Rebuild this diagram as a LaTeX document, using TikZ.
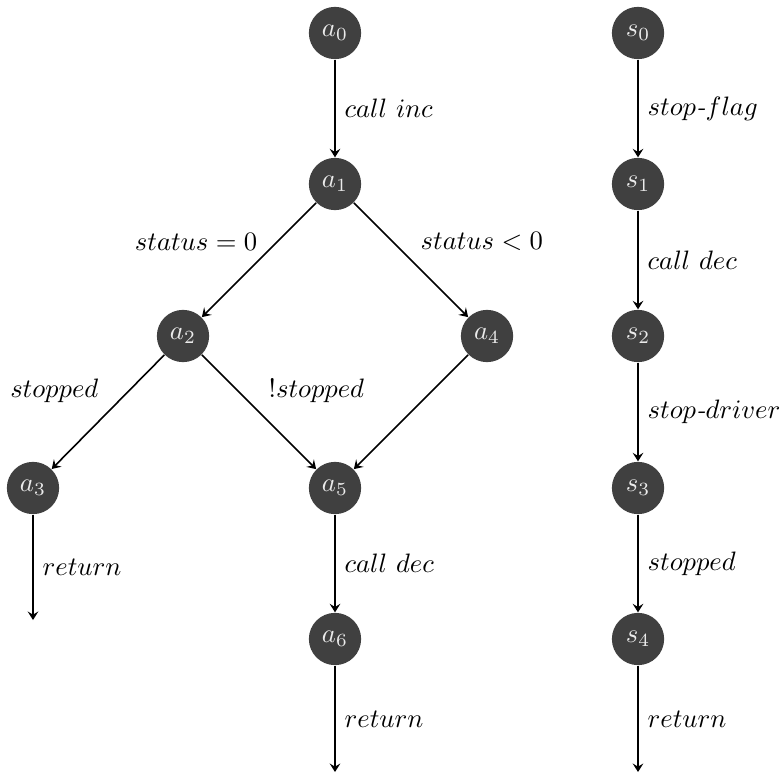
\documentclass[tikz,border=0pt]{standalone}
\usetikzlibrary{arrows.meta}
\begin{document}
\begin{tikzpicture}[x=0.0132cm,y=-0.0132cm,
  st/.style={circle,fill=black!75,text=white!92!black,minimum size=0.69cm,inner sep=0pt},
  tr/.style={-{Stealth[length=3.2pt,width=4pt,inset=1.2pt]},line width=0.6pt},
  lbl/.style={font=\normalsize}]
\useasboundingbox (0,0) rectangle (783,773);
\node[st] (a0) at (335,33) {$a_0$};
\node[st] (a1) at (335,184) {$a_1$};
\node[st] (a2) at (183,336) {$a_2$};
\node[st] (a4) at (487,336) {$a_4$};
\node[st] (a3) at (33,488) {$a_3$};
\node[st] (a5) at (335,488) {$a_5$};
\node[st] (a6) at (335,639) {$a_6$};
\coordinate (e3) at (33,620);
\coordinate (e6) at (335,772);
\node[st] (s0) at (638,33) {$s_0$};
\node[st] (s1) at (638,184) {$s_1$};
\node[st] (s2) at (638,336) {$s_2$};
\node[st] (s3) at (638,488) {$s_3$};
\node[st] (s4) at (638,639) {$s_4$};
\coordinate (es) at (638,772);

\draw[tr] (a0) -- node[right,lbl] {$call\ inc$} (a1);
\draw[tr] (a1) -- node[above left,lbl,xshift=3pt] {$status = 0$} (a2);
\draw[tr] (a1) -- node[above right,lbl] {$status < 0$} (a4);
\draw[tr] (a2) -- node[above left,lbl] {$stopped$} (a3);
\draw[tr] (a2) -- node[above right,lbl] {$!stopped$} (a5);
\draw[tr] (a4) -- (a5);
\draw[tr] (a3) -- node[right,lbl] {$return$} (e3);
\draw[tr] (a5) -- node[right,lbl] {$call\ dec$} (a6);
\draw[tr] (a6) -- node[right,lbl] {$return$} (e6);

\draw[tr] (s0) -- node[right,lbl] {$stop\textit{-}flag$} (s1);
\draw[tr] (s1) -- node[right,lbl] {$call\ dec$} (s2);
\draw[tr] (s2) -- node[right,lbl] {$stop\textit{-}driver$} (s3);
\draw[tr] (s3) -- node[right,lbl] {$stopped$} (s4);
\draw[tr] (s4) -- node[right,lbl] {$return$} (es);
\end{tikzpicture}
\end{document}
